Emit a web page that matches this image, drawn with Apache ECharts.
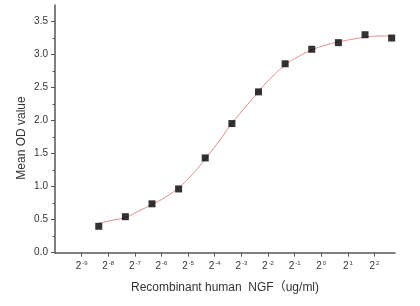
<!DOCTYPE html>
<html>
<head>
<meta charset="utf-8">
<script src="https://cdn.jsdelivr.net/npm/echarts@6/dist/echarts.min.js"></script>
<style>
html,body{margin:0;padding:0;background:#fff;}
#chart{width:420px;height:306px;}
</style>
</head>
<body>
<div id="chart"></div>
<script>
// Concentrations (ug/ml) and measured mean OD values
var concentrations = [0.00305, 0.0061, 0.0122, 0.0244, 0.0488, 0.0977, 0.1953, 0.3906, 0.7813, 1.5625, 3.125, 6.25];
var meanOD = [0.40, 0.545, 0.74, 0.965, 1.435, 1.955, 2.435, 2.86, 3.08, 3.18, 3.30, 3.25];

// Fitted curve
var curveConc = [0.00305, 0.00431, 0.0061, 0.00863, 0.0122, 0.0173, 0.0244, 0.0345, 0.0488, 0.0691, 0.0977, 0.138, 0.1953, 0.276, 0.3906, 0.552, 0.7813, 1.105, 1.5625, 2.21, 3.125, 4.42, 6.25];
var curveOD = [0.445, 0.49, 0.535, 0.63, 0.73, 0.84, 0.985, 1.18, 1.42, 1.68, 1.96, 2.20, 2.44, 2.66, 2.84, 2.97, 3.07, 3.14, 3.19, 3.23, 3.26, 3.28, 3.28];

// Tick positions
var xTickExp = [-9, -8, -7, -6, -5, -4, -3, -2, -1, 0, 1, 2];
var yTicks = [0, 0.5, 1.0, 1.5, 2.0, 2.5, 3.0, 3.5];
var yMinorTicks = [0.25, 0.75, 1.25, 1.75, 2.25, 2.75, 3.25];

var xTickVals = xTickExp.map(function (e) { return Math.pow(2, e); });
var FONT = "'Liberation Sans', Arial, 'Noto Sans CJK SC', sans-serif";
var TXT = '#333';
var AX = '#555';

var chart = echarts.init(document.getElementById('chart'), null, {renderer: 'canvas'});
chart.setOption({
  animation: false,
  backgroundColor: '#fff',
  grid: {left: 55, right: 25, top: 5, bottom: 53.3},
  xAxis: {
    type: 'log',
    logBase: 2,
    min: Math.pow(2, -10),
    max: Math.pow(2, 2.77),
    name: 'Recombinant human  NGF（ug/ml)',
    nameLocation: 'middle',
    nameGap: 29,
    nameTextStyle: {fontFamily: FONT, fontSize: 12, color: TXT},
    axisLine: {lineStyle: {color: AX, width: 1.5}},
    axisTick: {show: true, length: 4, lineStyle: {color: AX, width: 1}, customValues: xTickVals},
    axisLabel: {
      customValues: xTickVals,
      margin: 8,
      fontFamily: FONT,
      formatter: function (v) {
        var e = Math.round(Math.log(v) / Math.LN2);
        return '{b|2}{s|' + (e < 0 ? '-' : '') + Math.abs(e) + '}';
      },
      rich: {
        b: {fontFamily: FONT, fontSize: 10, color: TXT, lineHeight: 12},
        s: {fontFamily: FONT, fontSize: 6, color: TXT, lineHeight: 12, verticalAlign: 'top', padding: [0, 0, 0, 1]}
      }
    },
    splitLine: {show: false}
  },
  yAxis: [{
    type: 'value',
    min: 0,
    max: 3.75,
    axisLine: {show: true, lineStyle: {color: AX, width: 1.5}},
    axisTick: {show: true, length: 4, lineStyle: {color: AX, width: 1}, customValues: yTicks},
    axisLabel: {
      customValues: yTicks,
      margin: 7,
      fontFamily: FONT,
      fontSize: 10,
      color: TXT,
      formatter: function (v) { return v.toFixed(1); }
    },
    splitLine: {show: false}
  }, {
    type: 'value',
    min: 0,
    max: 3.75,
    position: 'left',
    axisLine: {show: false},
    axisTick: {show: true, length: 2.5, lineStyle: {color: AX, width: 1}, customValues: yMinorTicks},
    axisLabel: {show: false},
    splitLine: {show: false}
  }],
  graphic: [{
    type: 'text',
    x: 21.7,
    y: 138,
    rotation: Math.PI / 2,
    style: {
      text: 'Mean OD value',
      fontFamily: FONT,
      fontSize: 12,
      fill: TXT,
      align: 'center',
      verticalAlign: 'middle'
    }
  }],
  series: [{
    type: 'line',
    data: curveConc.map(function (c, i) { return [c, curveOD[i]]; }),
    smooth: true,
    showSymbol: false,
    lineStyle: {color: '#e08a8a', width: 1},
    z: 1
  }, {
    type: 'scatter',
    data: concentrations.map(function (c, i) { return [c, meanOD[i]]; }),
    symbol: 'rect',
    symbolSize: 7,
    itemStyle: {color: '#000'},
    z: 2
  }]
});
</script>
</body>
</html>
